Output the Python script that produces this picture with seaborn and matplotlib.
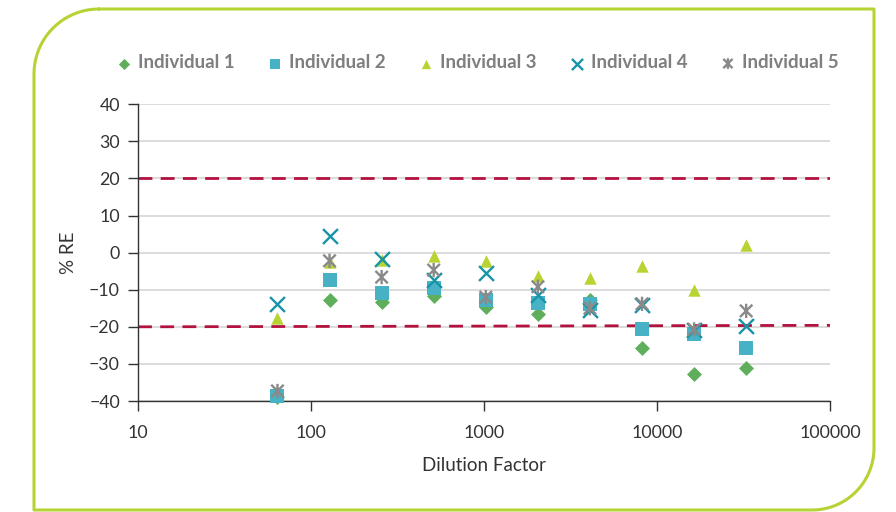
import numpy as np
import pandas as pd
import seaborn as sns
import matplotlib.pyplot as plt
from matplotlib.lines import Line2D
from matplotlib.markers import MarkerStyle
from matplotlib.path import Path
from matplotlib.ticker import FixedLocator, NullLocator, FuncFormatter

# Data
dilution = [64, 128, 256, 512, 1024, 2048, 4096, 8192, 16384, 32768]
ind1 = [-38.8, -12.8, -13.4, -11.7, -14.7, -16.6, -12.8, -25.8, -32.7, -31.0]
ind2 = [-38.6, -7.5, -11.0, -9.6, -12.8, -13.7, -13.8, -20.6, -22.0, -25.8]
ind3 = [-17.7, -2.5, -2.0, -0.9, -2.2, -6.2, -6.9, -3.6, -10.1, 2.1]
ind4 = [-13.9, 4.5, -1.6, -7.4, -5.4, -11.4, -15.5, -14.1, -20.9, -19.7]
ind5 = [-37.3, -2.2, -6.6, -4.7, -12.0, -9.2, -15.0, -13.8, -20.7, -15.7]
series_names = ["Individual 1", "Individual 2", "Individual 3", "Individual 4", "Individual 5"]

limit_x = [10, 100000]
upper_limit = [20.0, 20.0]
lower_limit = [-20.0, -19.6]

x_ticks = [10, 100, 1000, 10000, 100000]
y_ticks = [-40, -30, -20, -10, 0, 10, 20, 30, 40]

df = pd.DataFrame({"Dilution": dilution, "Individual 1": ind1, "Individual 2": ind2,
                   "Individual 3": ind3, "Individual 4": ind4, "Individual 5": ind5})
long_df = df.melt(id_vars="Dilution", var_name="Series", value_name="RE")

sns.set_theme(style="white")
plt.rcParams["font.family"] = ["Lato", "DejaVu Sans"]

# asterisk marker: X plus vertical bar
star = Path([(-1, -1), (1, 1), (-1, 1), (1, -1), (0, -1.15), (0, 1.15)],
            [Path.MOVETO, Path.LINETO] * 3)

styles = {
    "Individual 1": dict(marker="D", color="#5fae5c", s=58, linewidth=0),
    "Individual 2": dict(marker="s", color="#47b1c5", s=88, linewidth=0),
    "Individual 3": dict(marker="^", color="#b7d433", s=80, linewidth=0),
    "Individual 4": dict(marker="x", color="#1795a8", s=115, linewidth=1.7),
    "Individual 5": dict(marker=MarkerStyle(star, fillstyle="none"), color="#8a8a8a", s=105, linewidth=1.7),
}

fig = plt.figure(figsize=(8.96, 5.12), dpi=100)
ax = fig.add_axes([138 / 896, 1 - 401 / 512, 692 / 896, (401 - 104.3) / 512])

for name in series_names:
    sub = long_df[long_df["Series"] == name]
    sns.scatterplot(data=sub, x="Dilution", y="RE", label=name, ax=ax,
                    clip_on=False, zorder=3, **styles[name])

# acceptance limits
ax.plot(limit_x, upper_limit, color="#b3123f", linewidth=2.0, dashes=(5, 3), zorder=2)
ax.plot(limit_x, lower_limit, color="#b3123f", linewidth=2.0, dashes=(5, 3), zorder=2)

ax.set_xscale("log")
ax.set_xlim(10, 100000)
ax.set_ylim(-40, 40)
ax.xaxis.set_major_locator(FixedLocator(x_ticks))
ax.xaxis.set_minor_locator(NullLocator())
ax.xaxis.set_major_formatter(FuncFormatter(lambda v, p: f"{int(v)}"))
ax.set_yticks(y_ticks)

ax.yaxis.grid(True, color="#d9d9d9", linewidth=1.3)
ax.set_axisbelow(True)
for side in ["top", "right"]:
    ax.spines[side].set_visible(False)
for side in ["left", "bottom"]:
    ax.spines[side].set_color("#333333")
    ax.spines[side].set_linewidth(1.0)

ax.tick_params(axis="x", length=7, width=1, color="#333333", pad=10, labelsize=12.8, labelcolor="#333333")
ax.tick_params(axis="y", length=7, width=1, color="#333333", pad=6, labelsize=12.8, labelcolor="#333333")
ax.tick_params(left=True, bottom=True)

ax.set_xlabel("Dilution Factor", fontsize=13.5, color="#333333", labelpad=12)
ax.set_ylabel("% RE", fontsize=13.5, color="#333333", labelpad=9)

# legend across the top
ax.get_legend().remove()
leg = fig.legend(*ax.get_legend_handles_labels(), loc="center", bbox_to_anchor=(0.533, 0.877),
                 ncol=5, frameon=False, handlelength=0.8, handletextpad=0.35, columnspacing=1.75,
                 markerscale=0.75, prop={"weight": "bold", "size": 13.5})
for t in leg.get_texts():
    t.set_color("#7f7f7f")

# green frame with rounded top-left and bottom-right corners
W, H = 896, 512
left, top, right, bottom, r1, r2 = 34, 9, 874, 510, 65, 62
t1 = np.linspace(np.pi, 1.5 * np.pi, 30)
t2 = np.linspace(0, 0.5 * np.pi, 30)
px = ([left + r1, right, right] + list(right - r2 + r2 * np.cos(t2)) + [left, left]
      + list(left + r1 + r1 * np.cos(t1)))
py = ([top, top, bottom - r2] + list(bottom - r2 + r2 * np.sin(t2)) + [bottom, top + r1]
      + list(top + r1 + r1 * np.sin(t1)))
fig.add_artist(Line2D(np.array(px) / W, 1 - np.array(py) / H, transform=fig.transFigure,
                      color="#b6d334", linewidth=2.2, solid_joinstyle="round"))

plt.savefig("out.png", dpi=100)
